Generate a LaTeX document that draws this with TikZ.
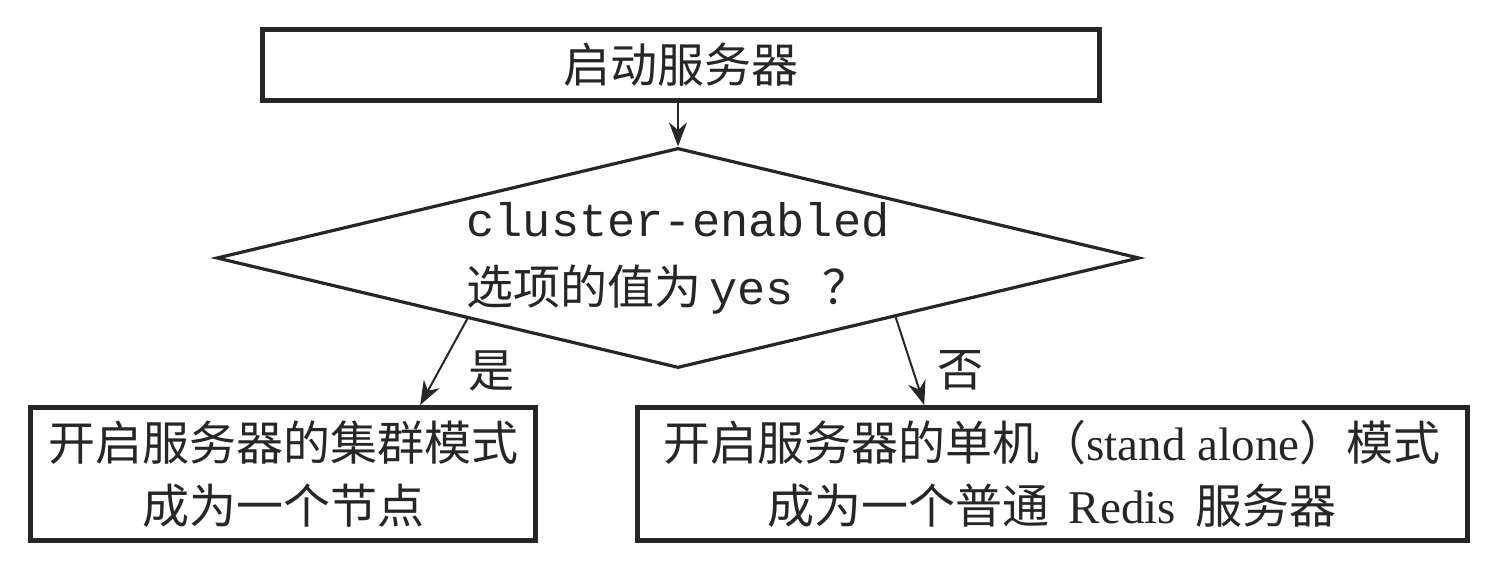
\documentclass[tikz,border=0pt]{standalone}
\usepackage{fontspec}
\setmainfont{Liberation Serif}
\setmonofont{Liberation Mono}
\newfontfamily\cjk{Noto Sans CJK SC}
\usetikzlibrary{arrows.meta,shapes.geometric,calc}
\definecolor{ink}{RGB}{38,38,38}

\begin{document}
\begin{tikzpicture}[x=.5pt,y=-.5pt,
  procbox/.style={draw=ink,line width=2.5pt,inner sep=0pt,align=center,text=ink,font=\fontsize{23.5}{31.5}\selectfont},
  decision/.style={diamond,shape aspect=4.2,draw=ink,line width=1.6pt,inner sep=0pt,align=left,text=ink,font=\ttfamily\fontsize{23.5}{34}\selectfont},
  flowarrow/.style={draw=ink,line width=1pt,-{Stealth[length=12pt,width=9pt]}},
  branchlabel/.style={inner sep=0pt,text=ink,font=\cjk\fontsize{23}{28}\selectfont}]
\path[use as bounding box] (0,0) rectangle (1502,582);
\path[fill=white,draw=none] (0,0) rectangle (1502,582);
% boxes and decision
\node[procbox,minimum width=418.5pt,minimum height=35.5pt] (start) at (681,65) {\cjk 启动服务器};
\node[decision,minimum width=461.5pt,minimum height=110pt] (check) at (678,258)
  {cluster-enabled\\{\cjk 选项的值为}\,yes {\cjk ？}};
\node[procbox,minimum width=252.5pt,minimum height=66.5pt] (cluster) at (283,474)
  {{\cjk 开启服务器的集群模式}\\{\cjk 成为一个节点}};
\node[procbox,minimum width=415pt,minimum height=66.5pt] (alone) at (1052,474)
  {{\cjk 开启服务器的单机（}stand alone{\cjk ）模式}\\{\cjk 成为一个普通}\, Redis\, {\cjk 服务器}};
% connectors
\draw[flowarrow] (check.north |- start.south) -- (check.north);
\draw[flowarrow] ($(check.west)!.545!(check.south)$) -- ($(cluster.north west)!.769!(cluster.north east)$)
  node[branchlabel,pos=.6,right=14pt] (yes) {是};
\draw[flowarrow] ($(check.south)!.47!(check.east)$) -- ($(alone.north west)!.347!(alone.north east)$)
  node[branchlabel,pos=.6,right=12pt] (no) {否};
\end{tikzpicture}
\end{document}
